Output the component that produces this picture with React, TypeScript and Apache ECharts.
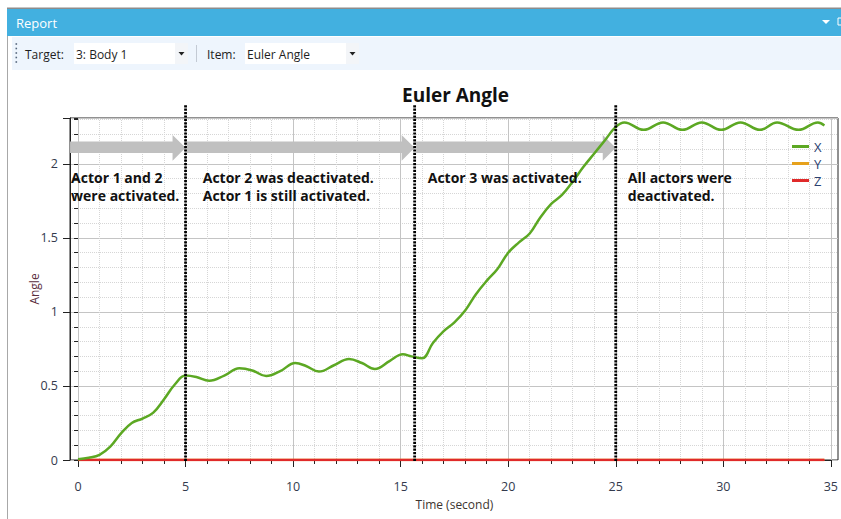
import React, { useEffect, useRef } from "react";
import * as echarts from "echarts";

// ---- data ----
const timeX = [
  0, 0.5, 1.0, 1.5, 2.0, 2.5, 3.0, 3.5, 4.0, 4.5, 5.0, 5.5, 6.1, 6.8, 7.5, 8.1, 8.75, 9.4,
  10.1, 10.6, 11.2, 11.9, 12.6, 13.2, 13.8, 14.5, 15.1, 15.5, 16.0, 16.5, 17.0, 17.5, 18.0,
  18.5, 19.0, 19.5, 20.0, 20.5, 21.0, 21.5, 22.0, 22.5, 23.0, 23.5, 24.0, 24.5, 25.0, 25.4,
  26.3, 27.2, 28.1, 29.0, 29.9, 30.8, 31.7, 32.5, 33.5, 34.4, 34.7,
];
const angleX = [
  0.005, 0.015, 0.035, 0.09, 0.18, 0.25, 0.28, 0.32, 0.41, 0.51, 0.57, 0.56, 0.535, 0.57,
  0.62, 0.605, 0.567, 0.6, 0.655, 0.635, 0.597, 0.64, 0.682, 0.655, 0.615, 0.67, 0.714, 0.7,
  0.687, 0.79, 0.87, 0.93, 1.01, 1.12, 1.21, 1.29, 1.4, 1.47, 1.53, 1.64, 1.73, 1.79, 1.88,
  1.98, 2.07, 2.16, 2.25, 2.28, 2.23, 2.28, 2.23, 2.28, 2.23, 2.28, 2.23, 2.28, 2.23, 2.28,
  2.26,
];
const timeFlat = [0, 34.7];
const angleY = [0, 0];
const angleZ = [0, 0];

const seriesNames = ["X", "Y", "Z"];
const seriesColors = ["#5ca823", "#e6a11c", "#e02a2a"];

const xTickLabels = ["0", "5", "10", "15", "20", "25", "30", "35"];
const yTickLabels = ["0", "0.5", "1", "1.5", "2"];

const eventTimes = [5, 15.65, 25];
const arrowStarts = [-0.37, 5.05, 15.72];
const arrowEnds = [5, 15.65, 25];
const arrowBand = [2.074, 2.151];
const arrowHead = [2.022, 2.196];

const noteTexts = [
  "Actor 1 and 2\nwere activated.",
  "Actor 2 was deactivated.\nActor 1 is still activated.",
  "Actor 3 was activated.",
  "All actors were\ndeactivated.",
];
const noteTimes = [-0.32, 5.8, 16.26, 25.56];
const noteTop = 1.968;

const FONT = '"Open Sans", "Noto Sans", sans-serif';

export default function App() {
  const ref = useRef<HTMLDivElement>(null);

  useEffect(() => {
    if (!ref.current) return;
    const chart = echarts.init(ref.current, undefined, { renderer: "svg" });

    const xData = timeX.map((t, i) => [t, angleX[i]]);
    const yData = timeFlat.map((t, i) => [t, angleY[i]]);
    const zData = timeFlat.map((t, i) => [t, angleZ[i]]);

    const isMult = (v: number, m: number) => Math.abs(v / m - Math.round(v / m)) < 1e-6;

    const grid = [
      { left: 70, right: 3, top: 118, bottom: 59, show: true, borderColor: "#222", borderWidth: 1 },
      { left: 78, right: 3, top: 118, bottom: 59 },
    ];

    const option: any = {
      animation: false,
      backgroundColor: "#fff",
      textStyle: { fontFamily: FONT },
      title: {
        text: "Euler Angle",
        left: 397,
        top: 80,
        textStyle: { fontSize: 19, fontWeight: "bold", color: "#111", fontFamily: FONT },
      },
      legend: {
        data: seriesNames,
        orient: "vertical",
        left: 792,
        top: 140,
        padding: 0,
        icon: "rect",
        itemWidth: 17,
        itemHeight: 3,
        itemGap: 4,
        textStyle: { fontSize: 13, color: "#2b4070", fontFamily: FONT },
      },
      grid,
      xAxis: [
        { type: "value", gridIndex: 0, min: -0.37, max: 35, show: false },
        {
          type: "value",
          gridIndex: 1,
          min: 0,
          max: 35,
          interval: 5,
          name: "Time (second)",
          nameLocation: "middle",
          nameGap: 38,
          nameMoveOverlap: false,
          nameTextStyle: { fontSize: 12, color: "#3d3530", fontFamily: FONT },
          axisLine: { show: true, lineStyle: { color: "#222", width: 1 } },
          axisTick: { show: true, length: 7, lineStyle: { color: "#222" } },
          minorTick: { show: true, splitNumber: 5, length: 4, lineStyle: { color: "#222" } },
          splitLine: { show: true, lineStyle: { color: "#c4c4c4", width: 1 } },
          minorSplitLine: { show: true, lineStyle: { color: "#d6d6d6", type: "dotted", width: 1 } },
          axisLabel: {
            margin: 20,
            fontSize: 12.5,
            color: "#333a4d",
            fontFamily: FONT,
            formatter: (v: number) => (isMult(v, 5) ? xTickLabels[Math.round(v / 5)] ?? "" : ""),
          },
        },
      ],
      yAxis: [
        {
          type: "value",
          gridIndex: 0,
          position: "left",
          min: 0,
          max: 2.31,
          interval: 0.1,
          axisLine: { show: false },
          axisTick: { show: true, length: 4, lineStyle: { color: "#222" } },
          axisLabel: { show: false },
          splitLine: { show: true, lineStyle: { color: "#d6d6d6", type: "dotted", width: 1 } },
        },
        {
          type: "value",
          gridIndex: 0,
          position: "left",
          min: 0,
          max: 2.31,
          interval: 0.5,
          name: "Angle",
          nameLocation: "middle",
          nameGap: 30,
          nameMoveOverlap: false,
          nameTextStyle: { fontSize: 12, color: "#5a2d3c", fontFamily: FONT },
          axisLine: { show: true, lineStyle: { color: "#222", width: 1 } },
          axisTick: { show: true, length: 7, lineStyle: { color: "#222" } },
          splitLine: { show: true, lineStyle: { color: "#c4c4c4", width: 1 } },
          axisLabel: {
            margin: 12,
            fontSize: 12.5,
            color: "#333a4d",
            fontFamily: FONT,
            formatter: (v: number) =>
              isMult(v, 0.5) && v <= 2.0001 ? yTickLabels[Math.round(v / 0.5)] ?? "" : "",
          },
        },
        { type: "value", gridIndex: 1, min: 0, max: 2.31, show: false },
      ],
      series: [
        {
          name: "Y",
          type: "line",
          xAxisIndex: 1,
          yAxisIndex: 2,
          data: yData,
          symbol: "none",
          lineStyle: { color: seriesColors[1], width: 2.5 },
          itemStyle: { color: seriesColors[1] },
          z: 3,
        },
        {
          name: "Z",
          type: "line",
          xAxisIndex: 1,
          yAxisIndex: 2,
          data: zData,
          symbol: "none",
          lineStyle: { color: seriesColors[2], width: 2.5 },
          itemStyle: { color: seriesColors[2] },
          z: 4,
        },
        {
          name: "X",
          type: "line",
          xAxisIndex: 1,
          yAxisIndex: 2,
          data: xData,
          symbol: "none",
          smooth: 0.4,
          lineStyle: { color: seriesColors[0], width: 2.5 },
          itemStyle: { color: seriesColors[0] },
          z: 5,
        },
        {
          name: "arrows",
          type: "custom",
          xAxisIndex: 1,
          yAxisIndex: 2,
          data: arrowStarts.map((s, i) => [s, arrowEnds[i]]),
          z: 2,
          renderItem: (params: any, api: any) => {
            const x0 = api.coord([api.value(0), 0])[0];
            const x1 = api.coord([api.value(1), 0])[0];
            const bt = api.coord([0, arrowBand[1]])[1];
            const bb = api.coord([0, arrowBand[0]])[1];
            const ht = api.coord([0, arrowHead[1]])[1];
            const hb = api.coord([0, arrowHead[0]])[1];
            const cy = (ht + hb) / 2;
            const hl = 13;
            return {
              type: "polygon",
              shape: {
                points: [
                  [x0, bt],
                  [x1 - hl, bt],
                  [x1 - hl, ht],
                  [x1, cy],
                  [x1 - hl, hb],
                  [x1 - hl, bb],
                  [x0, bb],
                ],
              },
              style: { fill: "#c0c0c0" },
            };
          },
        },
        {
          name: "events",
          type: "custom",
          xAxisIndex: 1,
          yAxisIndex: 2,
          data: eventTimes.map((t) => [t]),
          z: 6,
          renderItem: (params: any, api: any) => {
            const p = api.coord([api.value(0), 0]);
            const top = params.coordSys.y - 14;
            return {
              type: "line",
              shape: { x1: p[0], y1: p[1] + 1, x2: p[0], y2: top },
              style: { stroke: "#000", lineWidth: 2.8, lineDash: [2.2, 1.2] },
            };
          },
        },
        {
          name: "notes",
          type: "custom",
          xAxisIndex: 1,
          yAxisIndex: 2,
          data: noteTimes.map((t, i) => [t, noteTop, i]),
          z: 7,
          renderItem: (params: any, api: any) => {
            const p = api.coord([api.value(0), api.value(1)]);
            const idx = api.value(2);
            return {
              type: "text",
              x: p[0],
              y: p[1],
              style: {
                text: noteTexts[idx],
                fill: "#111",
                font: `bold 14px ${FONT}`,
                lineHeight: 18,
                textAlign: "left",
                textVerticalAlign: "top",
              },
            };
          },
        },
      ],
      graphic: [
        { type: "rect", shape: { x: 7, y: 7.5, width: 834, height: 1.5 }, style: { fill: "#8c8c8c" }, silent: true },
        { type: "rect", shape: { x: 7, y: 9, width: 834, height: 27 }, style: { fill: "#42b0e0" }, silent: true },
        {
          type: "text",
          x: 16,
          y: 23,
          style: { text: "Report", fill: "#fff", font: `13px ${FONT}`, textVerticalAlign: "middle" },
        },
        { type: "polygon", shape: { points: [[822, 20], [830, 20], [826, 24]] }, style: { fill: "#fff" }, silent: true },
        { type: "rect", shape: { x: 838, y: 18, width: 6, height: 7 }, style: { fill: "none", stroke: "#fff", lineWidth: 1 }, silent: true },
        { type: "rect", shape: { x: 12, y: 37, width: 829, height: 33 }, style: { fill: "#eef5fd" }, silent: true },
        { type: "line", shape: { x1: 7.5, y1: 36, x2: 7.5, y2: 519 }, style: { stroke: "#a8a8a8", lineWidth: 1 }, silent: true },
        ...[44, 48.5, 53, 57.5, 62].map((y) => ({
          type: "rect",
          shape: { x: 15.5, y: y - 0.8, width: 1.6, height: 1.6 },
          style: { fill: "#55657a" },
          silent: true,
        })),
        {
          type: "text",
          x: 25,
          y: 54,
          style: { text: "Target:", fill: "#1e1e1e", font: `12px ${FONT}`, textVerticalAlign: "middle" },
        },
        { type: "rect", shape: { x: 74, y: 43, width: 114, height: 21 }, style: { fill: "#fff" }, silent: true },
        { type: "rect", shape: { x: 175, y: 43, width: 13, height: 21 }, style: { fill: "#f3f5f8" }, silent: true },
        { type: "polygon", shape: { points: [[178.5, 52], [184.5, 52], [181.5, 55.5]] }, style: { fill: "#222" }, silent: true },
        {
          type: "text",
          x: 76,
          y: 54,
          style: { text: "3: Body 1", fill: "#1e1e1e", font: `12px ${FONT}`, textVerticalAlign: "middle" },
        },
        { type: "line", shape: { x1: 196.5, y1: 45, x2: 196.5, y2: 62 }, style: { stroke: "#c3cad4", lineWidth: 1 }, silent: true },
        {
          type: "text",
          x: 207,
          y: 54,
          style: { text: "Item:", fill: "#1e1e1e", font: `12px ${FONT}`, textVerticalAlign: "middle" },
        },
        { type: "rect", shape: { x: 245, y: 43, width: 114, height: 21 }, style: { fill: "#fff" }, silent: true },
        { type: "rect", shape: { x: 346, y: 43, width: 13, height: 21 }, style: { fill: "#f3f5f8" }, silent: true },
        { type: "polygon", shape: { points: [[349.5, 52], [355.5, 52], [352.5, 55.5]] }, style: { fill: "#222" }, silent: true },
        {
          type: "text",
          x: 247,
          y: 54,
          style: { text: "Euler Angle", fill: "#1e1e1e", font: `12px ${FONT}`, textVerticalAlign: "middle" },
        },
      ],
    };

    chart.setOption(option);
    return () => chart.dispose();
  }, []);

  return (
    <div
      ref={ref}
      style={{ position: "absolute", left: 0, top: 0, width: 841, height: 519, background: "#fff" }}
    />
  );
}
